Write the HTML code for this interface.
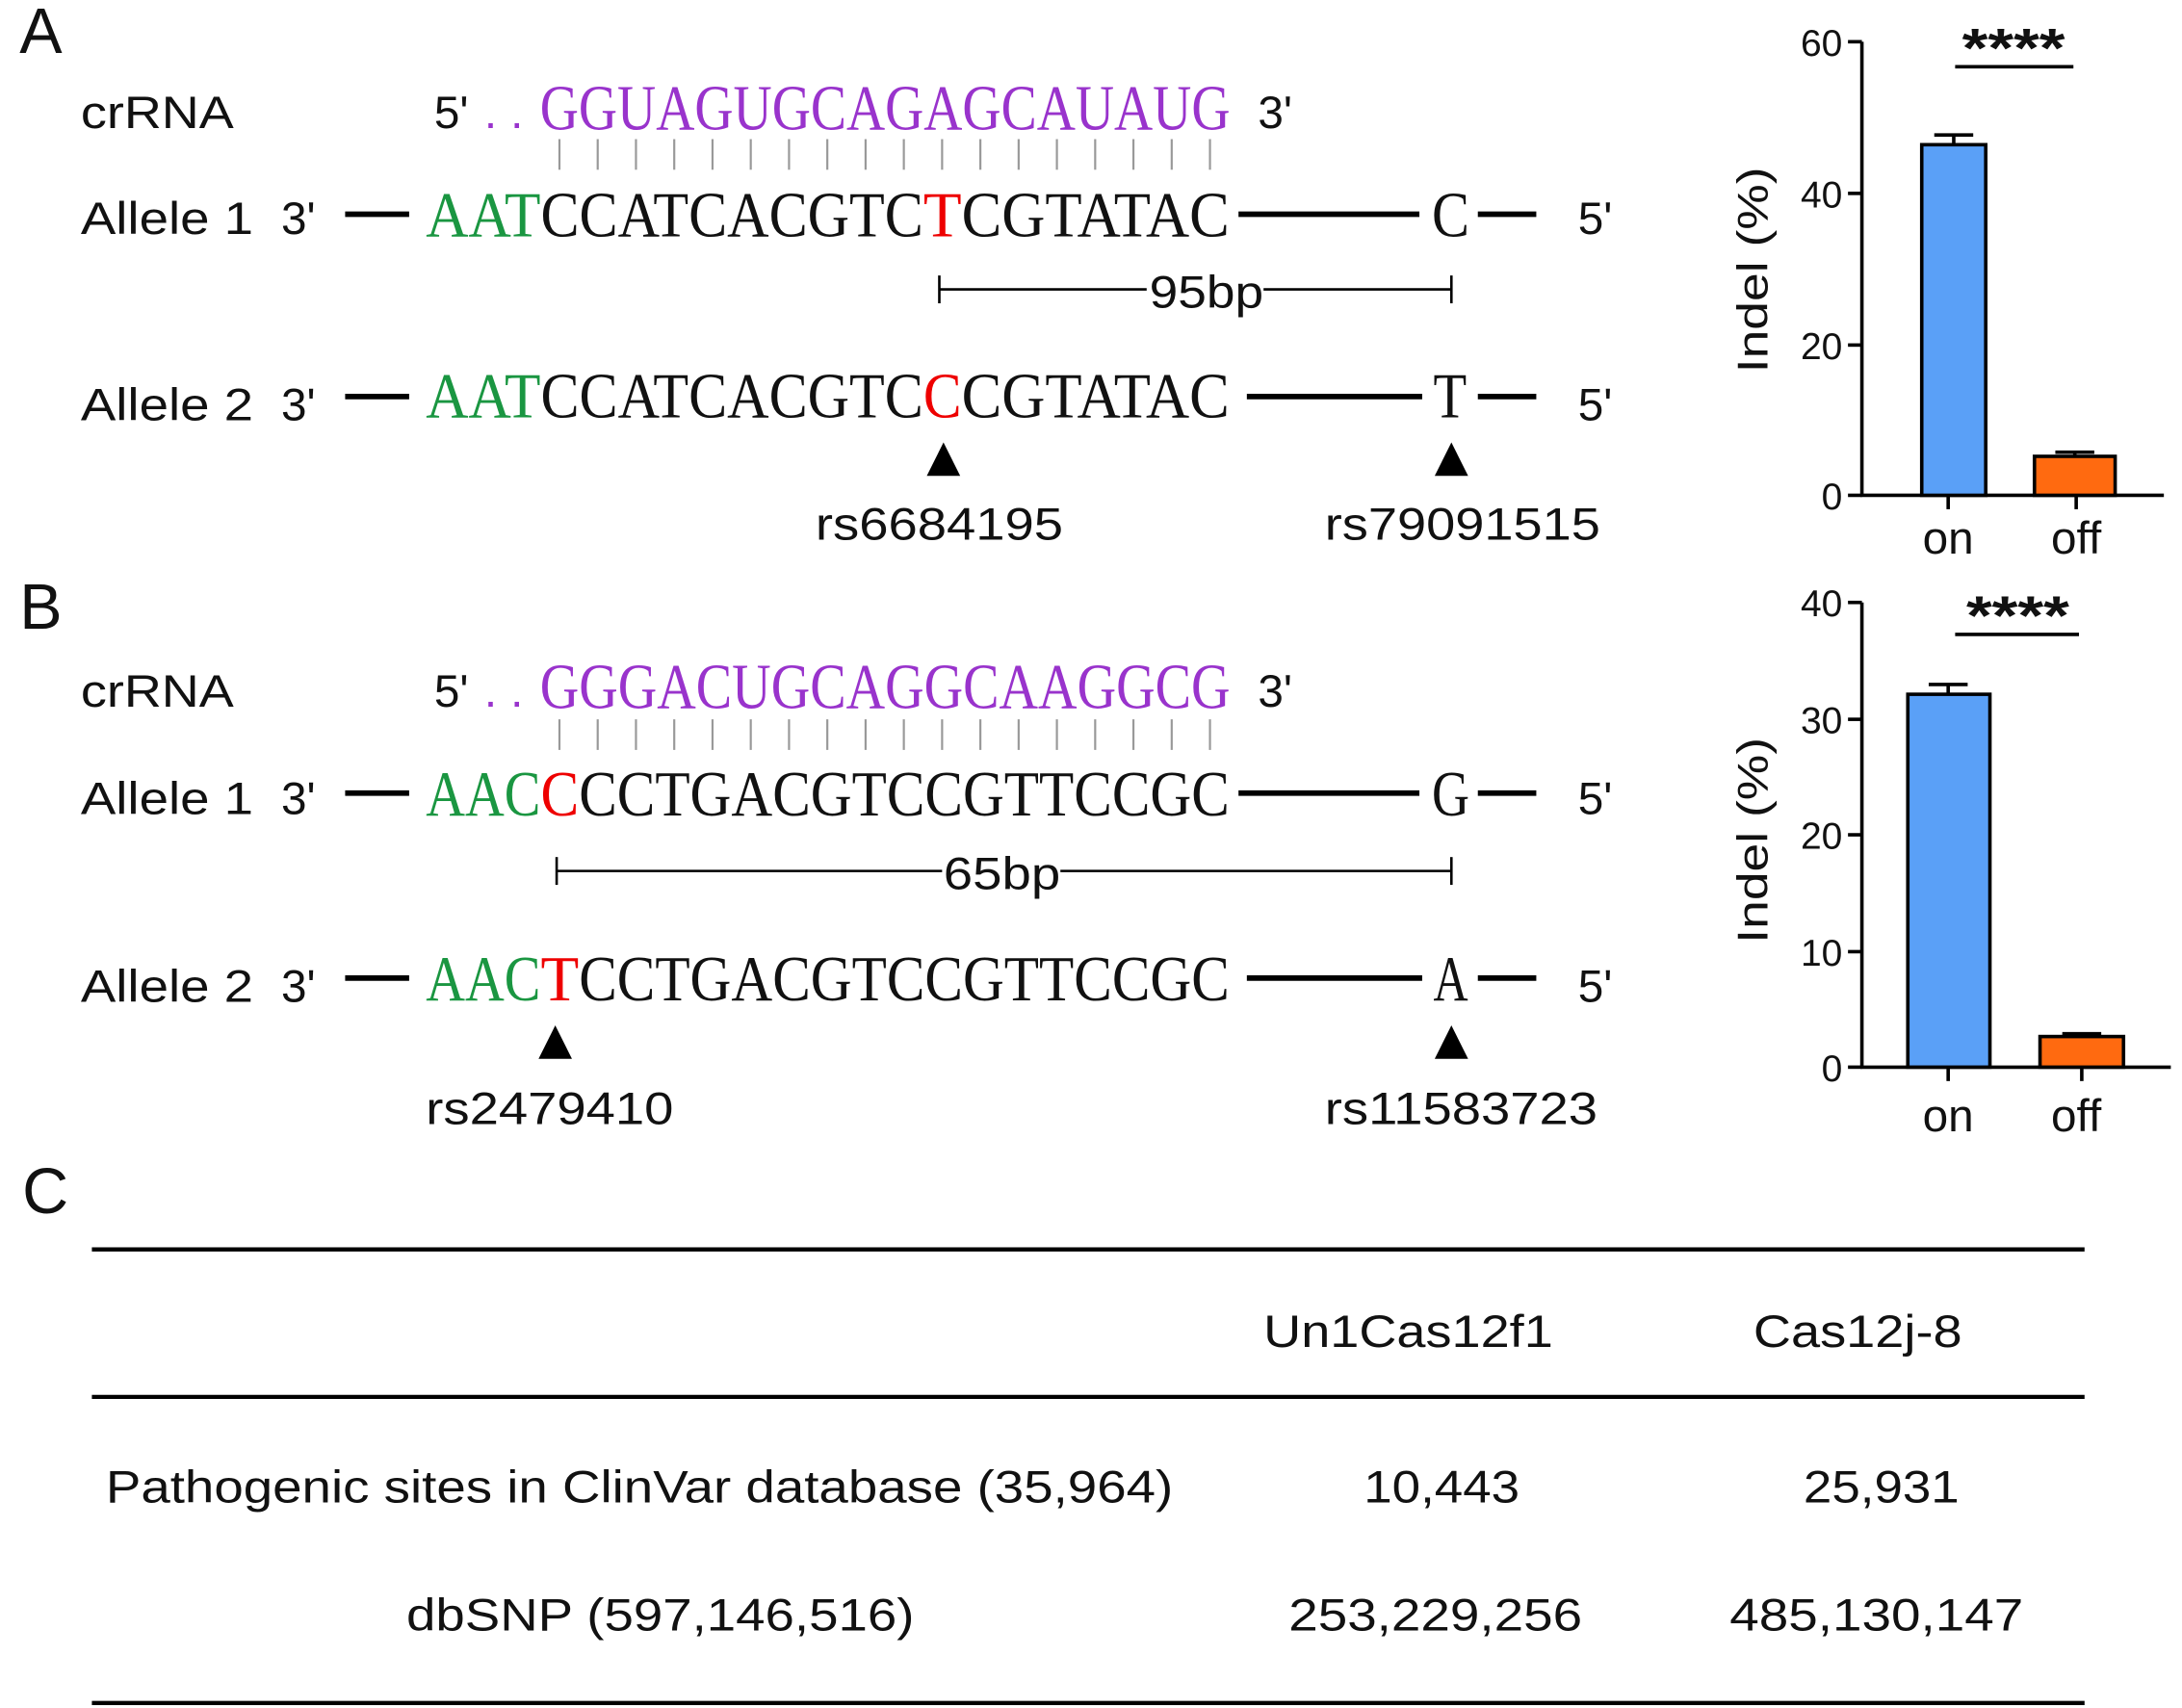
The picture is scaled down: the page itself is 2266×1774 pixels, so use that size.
<!DOCTYPE html>
<html><head><meta charset="utf-8"><style>
html,body{margin:0;padding:0;background:#fff;}
svg{display:block;}
.s{font-family:"Liberation Sans",sans-serif;fill:#111;}
.q{font-family:"Liberation Serif",serif;font-size:46px;}
</style></head><body>
<svg width="2266" height="1774" viewBox="0 0 1568 1227.6" xmlns="http://www.w3.org/2000/svg">
<rect width="1568" height="1228" fill="#fff"/>
<text class="s" x="14" y="38" font-size="46" fill="#222">A</text>
<text class="s" x="14" y="452" font-size="46" fill="#222">B</text>
<text class="s" x="16" y="872" font-size="46" fill="#222">C</text>

<!-- ===== Panel A ===== -->
<text class="s" x="58" y="92" font-size="33" textLength="110" lengthAdjust="spacingAndGlyphs">crRNA</text>
<text class="s" x="312" y="92" font-size="33">5'</text>
<text class="s" x="348" y="92" font-size="33" style="fill:#9933cc" textLength="28" lengthAdjust="spacing">..</text>
<text class="q" x="388" y="93" fill="#9933cc" textLength="496" lengthAdjust="spacingAndGlyphs">GGUAGUGCAGAGCAUAUG</text>
<text class="s" x="904" y="92" font-size="33">3'</text>
<g stroke="#999" stroke-width="1.5">
<line x1="402" y1="100" x2="402" y2="122"/><line x1="429.5" y1="100" x2="429.5" y2="122"/><line x1="457" y1="100" x2="457" y2="122"/><line x1="484.5" y1="100" x2="484.5" y2="122"/><line x1="512" y1="100" x2="512" y2="122"/><line x1="539.5" y1="100" x2="539.5" y2="122"/><line x1="567" y1="100" x2="567" y2="122"/><line x1="594.5" y1="100" x2="594.5" y2="122"/><line x1="622" y1="100" x2="622" y2="122"/><line x1="649.5" y1="100" x2="649.5" y2="122"/><line x1="677" y1="100" x2="677" y2="122"/><line x1="704.5" y1="100" x2="704.5" y2="122"/><line x1="732" y1="100" x2="732" y2="122"/><line x1="759.5" y1="100" x2="759.5" y2="122"/><line x1="787" y1="100" x2="787" y2="122"/><line x1="814.5" y1="100" x2="814.5" y2="122"/><line x1="842" y1="100" x2="842" y2="122"/><line x1="869.5" y1="100" x2="869.5" y2="122"/>
</g>
<text class="s" x="58" y="168" font-size="33" textLength="124" lengthAdjust="spacingAndGlyphs">Allele 1</text>
<text class="s" x="202" y="168" font-size="33">3'</text>
<line x1="248" y1="154" x2="294" y2="154" stroke="#000" stroke-width="4"/>
<text class="q" x="306" y="170" fill="#1a9641" textLength="82.5" lengthAdjust="spacingAndGlyphs">AAT</text>
<text class="q" x="388.5" y="170" fill="#111" textLength="275" lengthAdjust="spacingAndGlyphs">CCATCACGTC</text>
<text class="q" x="663.5" y="170" fill="#e00" textLength="27.5" lengthAdjust="spacingAndGlyphs">T</text>
<text class="q" x="691" y="170" fill="#111" textLength="192.5" lengthAdjust="spacingAndGlyphs">CGTATAC</text>
<line x1="890" y1="154" x2="1020" y2="154" stroke="#000" stroke-width="4"/>
<text class="q" x="1029" y="170" fill="#111" textLength="27" lengthAdjust="spacingAndGlyphs">C</text>
<line x1="1062" y1="154" x2="1104" y2="154" stroke="#000" stroke-width="4"/>
<text class="s" x="1134" y="168" font-size="33">5'</text>

<g stroke="#000" stroke-width="1.8">
<line x1="675" y1="208" x2="824" y2="208"/><line x1="908" y1="208" x2="1043" y2="208"/>
<line x1="675" y1="198" x2="675" y2="218"/><line x1="1043" y1="198" x2="1043" y2="218"/>
</g>
<text class="s" x="826" y="221" font-size="33" textLength="82" lengthAdjust="spacingAndGlyphs">95bp</text>

<text class="s" x="58" y="302" font-size="33" textLength="124" lengthAdjust="spacingAndGlyphs">Allele 2</text>
<text class="s" x="202" y="302" font-size="33">3'</text>
<line x1="248" y1="285" x2="294" y2="285" stroke="#000" stroke-width="4"/>
<text class="q" x="306" y="300" fill="#1a9641" textLength="82.5" lengthAdjust="spacingAndGlyphs">AAT</text>
<text class="q" x="388.5" y="300" fill="#111" textLength="275" lengthAdjust="spacingAndGlyphs">CCATCACGTC</text>
<text class="q" x="663.5" y="300" fill="#e00" textLength="27.5" lengthAdjust="spacingAndGlyphs">C</text>
<text class="q" x="691" y="300" fill="#111" textLength="192.5" lengthAdjust="spacingAndGlyphs">CGTATAC</text>
<line x1="896" y1="285" x2="1022" y2="285" stroke="#000" stroke-width="4"/>
<text class="q" x="1030" y="300" fill="#111" textLength="24" lengthAdjust="spacingAndGlyphs">T</text>
<line x1="1062" y1="285" x2="1104" y2="285" stroke="#000" stroke-width="4"/>
<text class="s" x="1134" y="302" font-size="33">5'</text>

<polygon points="678,318 666,342 690,342" fill="#000"/>
<polygon points="1043,318 1031,342 1055,342" fill="#000"/>
<text class="s" x="586" y="388" font-size="33" textLength="178" lengthAdjust="spacingAndGlyphs">rs6684195</text>
<text class="s" x="952" y="388" font-size="33" textLength="198" lengthAdjust="spacingAndGlyphs">rs79091515</text>

<!-- ===== Panel B ===== -->
<text class="s" x="58" y="508" font-size="33" textLength="110" lengthAdjust="spacingAndGlyphs">crRNA</text>
<text class="s" x="312" y="508" font-size="33">5'</text>
<text class="s" x="348" y="508" font-size="33" style="fill:#9933cc" textLength="28" lengthAdjust="spacing">..</text>
<text class="q" x="388" y="509" fill="#9933cc" textLength="496" lengthAdjust="spacingAndGlyphs">GGGACUGCAGGCAAGGCG</text>
<text class="s" x="904" y="508" font-size="33">3'</text>
<g stroke="#999" stroke-width="1.5">
<line x1="402" y1="517" x2="402" y2="539"/><line x1="429.5" y1="517" x2="429.5" y2="539"/><line x1="457" y1="517" x2="457" y2="539"/><line x1="484.5" y1="517" x2="484.5" y2="539"/><line x1="512" y1="517" x2="512" y2="539"/><line x1="539.5" y1="517" x2="539.5" y2="539"/><line x1="567" y1="517" x2="567" y2="539"/><line x1="594.5" y1="517" x2="594.5" y2="539"/><line x1="622" y1="517" x2="622" y2="539"/><line x1="649.5" y1="517" x2="649.5" y2="539"/><line x1="677" y1="517" x2="677" y2="539"/><line x1="704.5" y1="517" x2="704.5" y2="539"/><line x1="732" y1="517" x2="732" y2="539"/><line x1="759.5" y1="517" x2="759.5" y2="539"/><line x1="787" y1="517" x2="787" y2="539"/><line x1="814.5" y1="517" x2="814.5" y2="539"/><line x1="842" y1="517" x2="842" y2="539"/><line x1="869.5" y1="517" x2="869.5" y2="539"/>
</g>
<text class="s" x="58" y="585" font-size="33" textLength="124" lengthAdjust="spacingAndGlyphs">Allele 1</text>
<text class="s" x="202" y="585" font-size="33">3'</text>
<line x1="248" y1="570" x2="294" y2="570" stroke="#000" stroke-width="4"/>
<text class="q" x="306" y="586" fill="#1a9641" textLength="82.5" lengthAdjust="spacingAndGlyphs">AAC</text>
<text class="q" x="388.5" y="586" fill="#e00" textLength="27.5" lengthAdjust="spacingAndGlyphs">C</text>
<text class="q" x="416" y="586" fill="#111" textLength="467.5" lengthAdjust="spacingAndGlyphs">CCTGACGTCCGTTCCGC</text>
<line x1="890" y1="570" x2="1020" y2="570" stroke="#000" stroke-width="4"/>
<text class="q" x="1029" y="586" fill="#111" textLength="27" lengthAdjust="spacingAndGlyphs">G</text>
<line x1="1062" y1="570" x2="1104" y2="570" stroke="#000" stroke-width="4"/>
<text class="s" x="1134" y="585" font-size="33">5'</text>

<g stroke="#000" stroke-width="1.8">
<line x1="400" y1="626" x2="677" y2="626"/><line x1="762" y1="626" x2="1043" y2="626"/>
<line x1="400" y1="616" x2="400" y2="636"/><line x1="1043" y1="616" x2="1043" y2="636"/>
</g>
<text class="s" x="678" y="639" font-size="33" textLength="84" lengthAdjust="spacingAndGlyphs">65bp</text>

<text class="s" x="58" y="720" font-size="33" textLength="124" lengthAdjust="spacingAndGlyphs">Allele 2</text>
<text class="s" x="202" y="720" font-size="33">3'</text>
<line x1="248" y1="703" x2="294" y2="703" stroke="#000" stroke-width="4"/>
<text class="q" x="306" y="719" fill="#1a9641" textLength="82.5" lengthAdjust="spacingAndGlyphs">AAC</text>
<text class="q" x="388.5" y="719" fill="#e00" textLength="27.5" lengthAdjust="spacingAndGlyphs">T</text>
<text class="q" x="416" y="719" fill="#111" textLength="467.5" lengthAdjust="spacingAndGlyphs">CCTGACGTCCGTTCCGC</text>
<line x1="896" y1="703" x2="1022" y2="703" stroke="#000" stroke-width="4"/>
<text class="q" x="1030" y="719" fill="#111" textLength="25" lengthAdjust="spacingAndGlyphs">A</text>
<line x1="1062" y1="703" x2="1104" y2="703" stroke="#000" stroke-width="4"/>
<text class="s" x="1134" y="720" font-size="33">5'</text>

<polygon points="399,737 387,761 411,761" fill="#000"/>
<polygon points="1043,737 1031,761 1055,761" fill="#000"/>
<text class="s" x="306" y="808" font-size="33" textLength="178" lengthAdjust="spacingAndGlyphs">rs2479410</text>
<text class="s" x="952" y="808" font-size="33" textLength="196" lengthAdjust="spacingAndGlyphs">rs11583723</text>

<!-- ===== Chart A ===== -->
<g stroke="#000" stroke-width="2.5" fill="none">
<line x1="1338" y1="30" x2="1338" y2="357"/>
<line x1="1337" y1="356" x2="1555" y2="356"/>
<line x1="1328" y1="30" x2="1338" y2="30"/><line x1="1328" y1="139" x2="1338" y2="139"/><line x1="1328" y1="248" x2="1338" y2="248"/><line x1="1328" y1="356" x2="1338" y2="356"/>
<line x1="1400" y1="356" x2="1400" y2="366"/><line x1="1492" y1="356" x2="1492" y2="366"/>
</g>
<g class="s" font-size="27" text-anchor="end">
<text x="1324" y="40">60</text><text x="1324" y="149">40</text><text x="1324" y="258">20</text><text x="1324" y="366">0</text>
</g>
<text class="s" font-size="31" text-anchor="middle" textLength="148" lengthAdjust="spacingAndGlyphs" transform="translate(1270,194) rotate(-90)">Indel (%)</text>
<line x1="1404" y1="97" x2="1404" y2="104" stroke="#000" stroke-width="2.5"/>
<line x1="1390" y1="97" x2="1418" y2="97" stroke="#000" stroke-width="2.5"/>
<rect x="1381" y="104" width="46" height="252" fill="#5aa0f7" stroke="#000" stroke-width="2.5"/>
<line x1="1491" y1="325" x2="1491" y2="328" stroke="#000" stroke-width="2.5"/>
<line x1="1477" y1="325" x2="1505" y2="325" stroke="#000" stroke-width="2.5"/>
<rect x="1462" y="328" width="58" height="28" fill="#ff6a10" stroke="#000" stroke-width="2.5"/>
<text class="s" x="1400" y="398" font-size="33" text-anchor="middle">on</text>
<text class="s" x="1492" y="398" font-size="33" text-anchor="middle">off</text>
<line x1="1405" y1="48" x2="1490" y2="48" stroke="#000" stroke-width="2.5"/>
<text class="s" x="1410" y="48" font-size="40" font-weight="bold" textLength="74" lengthAdjust="spacingAndGlyphs">****</text>

<!-- ===== Chart B ===== -->
<g stroke="#000" stroke-width="2.5" fill="none">
<line x1="1338" y1="433" x2="1338" y2="768"/>
<line x1="1337" y1="767" x2="1560" y2="767"/>
<line x1="1328" y1="433" x2="1338" y2="433"/><line x1="1328" y1="517" x2="1338" y2="517"/><line x1="1328" y1="600" x2="1338" y2="600"/><line x1="1328" y1="684" x2="1338" y2="684"/><line x1="1328" y1="767" x2="1338" y2="767"/>
<line x1="1400" y1="767" x2="1400" y2="777"/><line x1="1496" y1="767" x2="1496" y2="777"/>
</g>
<g class="s" font-size="27" text-anchor="end">
<text x="1324" y="443">40</text><text x="1324" y="527">30</text><text x="1324" y="610">20</text><text x="1324" y="694">10</text><text x="1324" y="777">0</text>
</g>
<text class="s" font-size="31" text-anchor="middle" textLength="148" lengthAdjust="spacingAndGlyphs" transform="translate(1270,604) rotate(-90)">Indel (%)</text>
<line x1="1400" y1="492" x2="1400" y2="499" stroke="#000" stroke-width="2.5"/>
<line x1="1386" y1="492" x2="1414" y2="492" stroke="#000" stroke-width="2.5"/>
<rect x="1371" y="499" width="59" height="268" fill="#5aa0f7" stroke="#000" stroke-width="2.5"/>
<line x1="1496" y1="743" x2="1496" y2="745" stroke="#000" stroke-width="2.5"/>
<line x1="1482" y1="743" x2="1510" y2="743" stroke="#000" stroke-width="2.5"/>
<rect x="1466" y="745" width="60" height="22" fill="#ff6a10" stroke="#000" stroke-width="2.5"/>
<text class="s" x="1400" y="813" font-size="33" text-anchor="middle">on</text>
<text class="s" x="1492" y="813" font-size="33" text-anchor="middle">off</text>
<line x1="1405" y1="456" x2="1494" y2="456" stroke="#000" stroke-width="2.5"/>
<text class="s" x="1413" y="456" font-size="40" font-weight="bold" textLength="74" lengthAdjust="spacingAndGlyphs">****</text>

<!-- ===== Panel C table ===== -->
<g stroke="#000" stroke-width="3">
<line x1="66" y1="898" x2="1498" y2="898"/>
<line x1="66" y1="1004" x2="1498" y2="1004"/>
<line x1="66" y1="1224" x2="1498" y2="1224"/>
</g>
<g class="s" font-size="33">
<text x="908" y="968" textLength="208" lengthAdjust="spacingAndGlyphs">Un1Cas12f1</text>
<text x="1260" y="968" textLength="150" lengthAdjust="spacingAndGlyphs">Cas12j-8</text>
<text x="76" y="1080" textLength="767" lengthAdjust="spacingAndGlyphs">Pathogenic sites in ClinVar database (35,964)</text>
<text x="980" y="1080" textLength="112" lengthAdjust="spacingAndGlyphs">10,443</text>
<text x="1296" y="1080" textLength="112" lengthAdjust="spacingAndGlyphs">25,931</text>
<text x="292" y="1172" textLength="365" lengthAdjust="spacingAndGlyphs">dbSNP (597,146,516)</text>
<text x="926" y="1172" textLength="211" lengthAdjust="spacingAndGlyphs">253,229,256</text>
<text x="1243" y="1172" textLength="211" lengthAdjust="spacingAndGlyphs">485,130,147</text>
</g>
</svg>
</body></html>
